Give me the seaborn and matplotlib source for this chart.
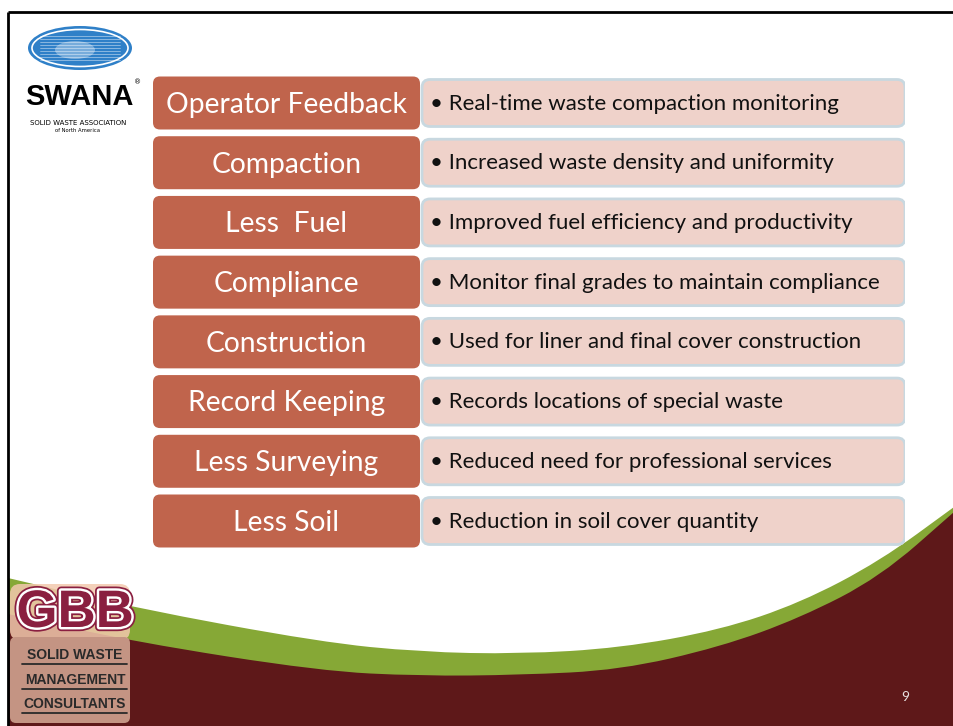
import numpy as np
import pandas as pd
import matplotlib.pyplot as plt
import seaborn as sns
from matplotlib.patches import FancyBboxPatch, Ellipse, PathPatch
from matplotlib.path import Path
import matplotlib.patheffects as pe

# Slide content
benefits = ["Operator Feedback", "Compaction", "Less  Fuel", "Compliance",
            "Construction", "Record Keeping", "Less Surveying", "Less Soil"]
details = ["Real-time waste compaction monitoring",
           "Increased waste density and uniformity",
           "Improved fuel efficiency and productivity",
           "Monitor final grades to maintain compliance",
           "Used for liner and final cover construction",
           "Records locations of special waste",
           "Reduced need for professional services",
           "Reduction in soil cover quantity"]
page_number = "9"

# Footer swoosh outlines (pixel coordinates)
swoosh_x = [8, 135, 320, 420, 520, 620, 720, 800, 880, 954]
green_top = [578, 608, 642, 652, 654, 648, 630, 603, 561, 507]
maroon_top = [614, 642, 671, 676, 675, 670, 647, 618, 577, 512]

W, H = 954, 726
LABEL_W, ROW_W = 267, 752          # box lengths in pixels
ROW_PX = (521 - 103) / 7           # vertical spacing between rows

LABEL_COLOR = "#C0644C"
DETAIL_COLOR = "#EFD2CA"
DETAIL_EDGE = "#C8D8E0"
GREEN = "#86A836"
MAROON = "#5E1819"

sns.set_theme(style="white")
plt.rcParams["font.family"] = ["Lato", "DejaVu Sans"]

fig = plt.figure(figsize=(W / 100, H / 100), dpi=100)

# background / decoration layer in pixel coordinates
bg = fig.add_axes([0, 0, 1, 1], zorder=0)
bg.set_xlim(0, W)
bg.set_ylim(H, 0)
bg.axis("off")


def smooth_area(xs, ys, color):
    pts = list(zip(xs, ys))
    verts = [pts[0], ((pts[0][0] + pts[1][0]) / 2, (pts[0][1] + pts[1][1]) / 2)]
    codes = [Path.MOVETO, Path.LINETO]
    for i in range(1, len(pts) - 1):
        mid = ((pts[i][0] + pts[i + 1][0]) / 2, (pts[i][1] + pts[i + 1][1]) / 2)
        verts += [pts[i], mid]
        codes += [Path.CURVE3, Path.CURVE3]
    verts += [pts[-1], (W + 2, pts[-1][1]), (W + 2, H + 2), (xs[0], H + 2), pts[0]]
    codes += [Path.LINETO, Path.LINETO, Path.LINETO, Path.LINETO, Path.CLOSEPOLY]
    bg.add_patch(PathPatch(Path(verts, codes), facecolor=color, edgecolor="none"))


smooth_area(swoosh_x, green_top, GREEN)
smooth_area(swoosh_x, maroon_top, MAROON)

# slide frame
bg.plot([8, W], [12, 12], color="black", lw=2, solid_capstyle="butt")
bg.plot([8, 8], [12, H], color="black", lw=2, solid_capstyle="butt")

# SWANA logo
bg.add_patch(Ellipse((80, 48), 104, 44, facecolor="#2F80C8", edgecolor="none"))
bg.add_patch(Ellipse((80, 48), 96, 37, facecolor="none", edgecolor="white", lw=1.2))
for yy in np.arange(36, 62, 3):
    bg.plot([40, 120], [yy, yy], color="white", lw=0.5, alpha=0.6)
bg.add_patch(Ellipse((75, 50), 40, 18, facecolor="white", edgecolor="none", alpha=0.35))
bg.text(79, 97, "SWANA", ha="center", va="center", fontsize=21, fontweight="bold",
        family=["Liberation Sans", "DejaVu Sans"], color="black")
bg.text(138, 82, "®", ha="center", va="center", fontsize=5, color="black",
        family=["DejaVu Sans"])
bg.text(78, 123, "SOLID WASTE ASSOCIATION", ha="center", va="center", fontsize=5,
        family=["DejaVu Sans"], color="black")
bg.text(78, 130, "of North America", ha="center", va="center", fontsize=3.8,
        family=["DejaVu Sans"], color="black")

# GBB logo
bg.add_patch(FancyBboxPatch((14, 588), 112, 48, boxstyle="round,pad=4,rounding_size=10",
                            facecolor="#F3C9AE", edgecolor="none", alpha=0.85))
bg.add_patch(FancyBboxPatch((13, 640), 114, 80, boxstyle="round,pad=3,rounding_size=6",
                            facecolor="#C49483", edgecolor="none"))
bg.text(75, 613, "GBB", ha="center", va="center", fontsize=38, fontweight="heavy",
        family=["Liberation Sans", "DejaVu Sans"], color="#8A1F40",
        path_effects=[pe.Stroke(linewidth=6, foreground="#8A1F40"),
                      pe.Stroke(linewidth=3.5, foreground="white"), pe.Normal()])
for yy, word in zip([655, 680, 704], ["SOLID WASTE", "MANAGEMENT", "CONSULTANTS"]):
    bg.text(75, yy, word, ha="center", va="center", fontsize=10, fontweight="bold",
            family=["Liberation Sans", "DejaVu Sans"], color="#2A2A2A")
    bg.plot([22, 127], [yy + 9, yy + 9], color="#2A2A2A", lw=1.3)

bg.text(905, 697, page_number, ha="center", va="center", fontsize=10, color="#E8E0E0")

# list of benefits drawn as a categorical bar chart
df = pd.DataFrame({"benefit": benefits, "detail": details})
df["row_len"] = ROW_W
df["label_len"] = LABEL_W

ax = fig.add_axes([153 / W, 1 - (521 + ROW_PX / 2) / H, ROW_W / W, 8 * ROW_PX / H], zorder=1)
ax.patch.set_alpha(0)
sns.barplot(data=df, y="benefit", x="row_len", color=DETAIL_COLOR, width=47 / ROW_PX,
            saturation=1, ax=ax)
sns.barplot(data=df, y="benefit", x="label_len", color=LABEL_COLOR, width=53 / ROW_PX,
            saturation=1, ax=ax)
ax.set_xlim(0, ROW_W)
ax.set_ylim(len(benefits) - 0.5, -0.5)

# swap the square bars for rounded boxes
aspect = 1 / ROW_PX
n = len(benefits)
for i, bar in enumerate(list(ax.patches)):
    x0, y0 = bar.get_x(), bar.get_y()
    w, h = bar.get_width(), bar.get_height()
    bar.remove()
    if i < n:
        ax.add_patch(FancyBboxPatch((x0 + 269, y0), w - 269, h,
                                    boxstyle="round,pad=0,rounding_size=8",
                                    mutation_aspect=aspect, facecolor=DETAIL_COLOR,
                                    edgecolor=DETAIL_EDGE, lw=2, zorder=2))
    else:
        ax.add_patch(FancyBboxPatch((x0, y0), w, h,
                                    boxstyle="round,pad=0,rounding_size=7",
                                    mutation_aspect=aspect, facecolor=LABEL_COLOR,
                                    edgecolor="none", zorder=3))

for i, (b, d) in enumerate(zip(benefits, details)):
    ax.text(LABEL_W / 2, i + 0.03, b, ha="center", va="center", fontsize=20.3,
            color="white", zorder=4)
    ax.text(277, i + 0.01, "\u2022 " + d, ha="left", va="center", fontsize=16,
            color="#111111", zorder=4)

ax.set_xlabel("")
ax.set_ylabel("")
ax.set_xticks([])
ax.set_yticks([])
sns.despine(ax=ax, left=True, bottom=True)

fig.savefig("out.png", dpi=100)
